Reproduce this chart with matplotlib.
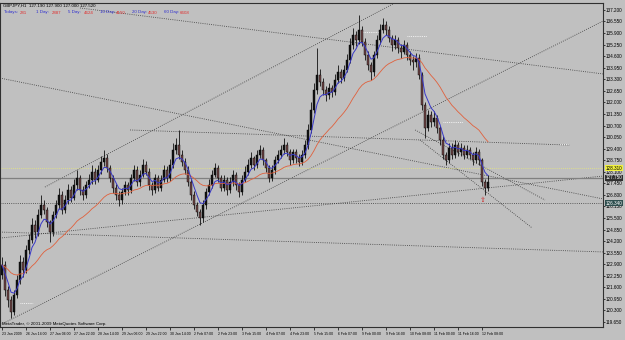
import numpy as np
import pandas as pd
import matplotlib
matplotlib.use("Agg")
import matplotlib.pyplot as plt

plt.rcParams["font.family"] = ["Liberation Sans", "DejaVu Sans"]

# ---------------- data (2-hour bars, GBPJPY) ----------------
first_open = 122.30
closes = [
    122.85, 121.45, 120.89, 120.21, 121.17, 122.01, 123.02, 122.57, 123.70, 124.26,
    125.10, 124.71, 125.67, 126.23, 125.95, 125.27, 124.71, 125.67, 126.23, 126.79,
    125.95, 126.51, 127.07, 126.62, 127.35, 127.75, 127.07, 126.79, 127.35, 127.64,
    128.09, 127.64, 128.20, 128.65, 128.87, 128.31, 127.75, 127.19, 126.79, 126.51,
    126.96, 127.35, 127.07, 127.75, 128.20, 127.52, 127.92, 128.48, 128.09, 127.35,
    127.07, 127.75, 127.19, 127.64, 128.20, 127.75, 128.48, 129.32, 129.60, 129.04,
    128.65, 128.20, 127.52, 126.79, 126.23, 125.84, 125.50, 126.23, 126.96, 127.35,
    127.92, 128.31, 127.75, 127.19, 127.64, 127.07, 127.52, 127.92, 127.35, 126.96,
    127.64, 128.09, 128.48, 128.87, 128.48, 129.04, 129.32, 128.76, 128.31, 127.75,
    128.20, 128.76, 129.04, 129.32, 129.60, 129.21, 128.76, 129.21, 128.87, 128.65,
    129.04, 129.60, 130.45, 131.57, 132.70, 133.54, 133.15, 132.70, 132.42, 132.81,
    132.59, 133.26, 133.71, 133.37, 133.82, 134.39, 135.23, 135.79, 135.51, 136.07,
    135.40, 134.67, 134.10, 133.71, 134.67, 135.51, 136.07, 136.35, 136.07, 135.62,
    135.23, 135.51, 135.06, 134.84, 135.23, 134.67, 134.39, 134.27, 134.50, 133.54,
    131.85, 130.56, 131.29, 130.90, 131.12, 130.56, 129.89, 129.04, 128.76, 129.44,
    129.04, 129.60, 129.21, 129.44, 129.04, 129.32, 129.04, 128.76, 129.21, 128.76,
    127.52, 127.19, 127.52,
]
highs = [
    123.30, 123.10, 121.70, 121.10, 121.45, 122.30, 123.40, 123.30, 124.00, 124.60,
    125.50, 125.40, 126.00, 126.80, 126.50, 126.10, 125.40, 125.90, 126.50, 127.20,
    127.00, 126.80, 127.40, 127.30, 127.70, 128.20, 127.90, 127.30, 127.60, 128.00,
    128.50, 128.30, 128.50, 129.00, 129.35, 129.10, 128.50, 127.90, 127.40, 127.00,
    127.20, 127.60, 127.50, 128.00, 128.50, 128.40, 128.20, 128.80, 128.70, 128.30,
    127.50, 128.00, 127.90, 127.90, 128.50, 128.40, 128.80, 129.70, 130.00, 130.45,
    129.30, 128.90, 128.40, 127.70, 127.00, 126.40, 126.00, 126.50, 127.20, 127.70,
    128.20, 128.60, 128.50, 127.90, 127.90, 127.80, 127.80, 128.20, 128.10, 127.50,
    127.90, 128.40, 128.80, 129.20, 129.00, 129.30, 129.60, 129.50, 128.90, 128.50,
    128.50, 129.00, 129.30, 129.60, 130.00, 129.80, 129.40, 129.40, 129.40, 129.10,
    129.30, 129.90, 130.80, 132.00, 133.10, 135.06, 133.90, 133.40, 132.90, 133.10,
    133.00, 133.60, 134.10, 133.90, 134.10, 134.70, 135.60, 136.20, 136.00, 136.92,
    136.30, 135.60, 134.90, 134.30, 134.90, 135.80, 136.40, 136.75, 136.60, 136.30,
    135.80, 135.80, 135.70, 135.30, 135.50, 135.40, 134.90, 134.60, 134.80, 134.70,
    133.70, 132.00, 131.60, 131.50, 131.50, 131.30, 130.70, 130.10, 129.20, 129.70,
    129.70, 129.90, 129.80, 129.70, 129.60, 129.60, 129.50, 129.20, 129.50, 129.40,
    128.90, 127.70, 127.90,
]
lows = [
    122.05, 121.10, 120.50, 119.85, 120.05, 121.00, 121.80, 122.20, 122.40, 123.50,
    124.10, 124.40, 124.50, 125.50, 125.70, 125.00, 124.15, 124.50, 125.50, 126.00,
    125.70, 125.80, 126.30, 126.40, 126.50, 127.10, 126.80, 126.50, 126.60, 127.20,
    127.40, 127.40, 127.50, 128.00, 128.40, 128.10, 127.50, 126.90, 126.50, 126.20,
    126.30, 126.80, 126.80, 126.90, 127.60, 127.30, 127.30, 127.80, 127.90, 127.10,
    126.80, 126.90, 127.00, 127.00, 127.50, 127.50, 127.60, 128.30, 129.10, 128.80,
    128.40, 128.00, 127.30, 126.50, 126.00, 125.60, 125.10, 125.30, 126.00, 126.80,
    127.20, 127.80, 127.50, 127.00, 127.00, 126.80, 126.90, 127.30, 127.10, 126.70,
    126.80, 127.50, 127.90, 128.30, 128.20, 128.30, 128.90, 128.50, 128.10, 127.50,
    127.60, 128.00, 128.60, 128.90, 129.10, 129.00, 128.50, 128.60, 128.60, 128.40,
    128.50, 128.90, 129.40, 130.30, 131.40, 132.50, 132.90, 132.40, 132.10, 132.20,
    132.30, 132.40, 133.10, 133.10, 133.20, 133.70, 134.20, 135.00, 135.20, 135.30,
    135.20, 134.40, 133.80, 133.26, 133.50, 134.50, 135.30, 135.90, 135.80, 135.40,
    134.90, 135.00, 134.80, 134.50, 134.70, 134.40, 134.10, 133.83, 134.00, 133.30,
    131.60, 130.00, 130.40, 130.60, 130.70, 130.30, 129.60, 128.80, 128.48, 128.60,
    128.80, 128.90, 129.00, 129.00, 128.80, 128.90, 128.80, 128.50, 128.60, 128.50,
    127.30, 126.80, 127.00,
]
time_labels = [
    "23 Jan 2009", "26 Jan 14:00", "27 Jan 06:00", "27 Jan 22:00", "28 Jan 14:00",
    "29 Jan 06:00", "29 Jan 22:00", "30 Jan 14:00", "2 Feb 07:00", "2 Feb 23:00",
    "3 Feb 15:00", "4 Feb 07:00", "4 Feb 23:00", "5 Feb 15:00", "6 Feb 07:00",
    "9 Feb 00:00", "9 Feb 16:00", "10 Feb 08:00", "11 Feb 00:00", "11 Feb 16:00",
    "12 Feb 08:00",
]
time_label_bars = [0, 8, 16, 24, 32, 40, 48, 56, 64, 72, 80, 88, 96, 104, 112,
                   120, 128, 136, 144, 152, 160]
price_ticks = [119.65, 120.30, 120.95, 121.60, 122.25, 122.90, 123.55, 124.20,
               124.85, 125.50, 126.15, 126.80, 127.45, 128.10, 128.75, 129.40,
               130.05, 130.70, 131.35, 132.00, 132.65, 133.30, 133.95, 134.60,
               135.25, 135.90, 136.55, 137.20]

# trend lines drawn on the chart: ((bar0, price0), (bar1, price1))
trend_lines = [
    ((-0.7, 119.48), (200.4, 136.58)),
    ((14.3, 127.24), (136.0, 138.04)),
    ((26.0, 137.31), (200.4, 133.60)),
    ((42.7, 130.45), (189.3, 129.60)),
    ((-0.7, 133.37), (200.4, 126.57)),
    ((137.7, 130.45), (181.0, 126.51)),
    ((139.3, 129.89), (176.7, 124.94)),
    ((-0.7, 124.37), (200.4, 127.86)),
    ((-0.7, 126.34), (200.4, 126.34)),
    ((-0.7, 124.71), (200.4, 123.59)),
]
white_marks = [((120.3, 126.0), 135.96), ((135.0, 141.7), 135.73),
               ((147.0, 153.7), 130.90), ((6.0, 10.3), 120.72),
               ((186.0, 188.7), 129.66)]
yellow_level = 128.31
bid_level = 127.75
line_tag_level = 126.34
arrow_bar, arrow_price = 160.3, 126.51

header_items = [("Todays:", "281"), ("1 Day:", "2887"), ("5 Day:", "4624"),
                ("10 Day:", "4150"), ("20 Day:", "4530"), ("60 Day:", "6608")]

# ---------------- drawing ----------------
BG = "#c0c0c0"
fig = plt.figure(figsize=(6.25, 3.4), dpi=100, facecolor=BG)
ax = fig.add_axes([0.0, 13 / 340, 603 / 625, 324 / 340], facecolor=BG)

n = len(closes)
idx = np.arange(n)
c = np.array(closes)
o = np.array([first_open] + closes[:-1])
h = np.array(highs)
l = np.array(lows)

ax.set_xlim(-0.67, 200.33)
ax.set_ylim(119.37, 137.59)

# trend lines
for (x0, y0), (x1, y1) in trend_lines:
    ax.plot([x0, x1], [y0, y1], color="#3a3a3a", lw=0.6,
            linestyle=(0, (1, 1.6)), zorder=1)
for (x0, x1), y in white_marks:
    ax.plot([x0, x1], [y, y], color="white", lw=0.6,
            linestyle=(0, (1, 1.2)), zorder=1)
ax.axhline(yellow_level, color="#e8e878", lw=0.6, linestyle=(0, (1, 1.5)), zorder=1)
ax.axhline(bid_level, color="#808080", lw=0.9, zorder=1)

# candles
ax.vlines(idx, l, h, color="black", lw=0.55, zorder=3)
bull = c >= o
body_lo = np.minimum(o, c)
body_h = np.maximum(np.abs(c - o), 0.04)
ax.bar(idx[bull], body_h[bull], bottom=body_lo[bull], width=0.75,
       color="#141414", edgecolor="black", lw=0.3, zorder=4)
ax.bar(idx[~bull], body_h[~bull], bottom=body_lo[~bull], width=0.75,
       color="#6e4646", edgecolor="black", lw=0.3, zorder=4)

# moving averages
s = pd.Series(c)
fast = s.ewm(span=5, adjust=False).mean()
slow = s.ewm(span=25, adjust=False).mean()
ax.plot(idx, slow, color="#e0603c", lw=0.6, zorder=5)
ax.plot(idx, fast, color="#3838c8", lw=0.7, zorder=5)

# signal arrow
ax.text(arrow_bar, arrow_price, "\u21e7", color="#d02020", fontsize=5,
        ha="center", va="center", zorder=6, family="DejaVu Sans")

# axes styling
for sp in ax.spines.values():
    sp.set_color("#303030")
    sp.set_linewidth(0.8)
ax.yaxis.tick_right()
ax.set_yticks(price_ticks)
ax.set_yticklabels([f"{v:.3f}" for v in price_ticks])
ax.tick_params(axis="y", labelsize=3.3, length=1.5, width=0.5, pad=0.6,
               colors="black")
ax.set_xticks(time_label_bars)
ax.set_xticklabels(time_labels)
ax.tick_params(axis="x", labelsize=2.55, length=2.5, width=0.5, pad=0.8,
               colors="black")
for lab in ax.get_xticklabels():
    lab.set_ha("left")

# price tags on the right scale
for lvl, fc, tc in [(yellow_level, "#f0f040", "black"),
                    (bid_level, "#303030", "white"),
                    (line_tag_level, "#2f4f4f", "white")]:
    ax.text(1.0045, lvl, f"{lvl:.3f}", transform=ax.get_yaxis_transform(),
            fontsize=3.3, color=tc, ha="left", va="center",
            bbox=dict(boxstyle="square,pad=0.12", fc=fc, ec="none"), zorder=10,
            clip_on=False)

# header texts
fig.text(3 / 625, 1 - 5.5 / 340, "GBPJPY,H1  127.190 127.900 127.000 127.520",
         fontsize=3.2, color="black", va="center", ha="left")
xpos = 4
for lab, val in header_items:
    fig.text(xpos / 625, 1 - 12.5 / 340, lab, fontsize=3.2, color="#2d2dd0",
             va="center", ha="left")
    fig.text((xpos + 16) / 625, 1 - 12.5 / 340, val, fontsize=3.2,
             color="#e03030", va="center", ha="left")
    xpos += 32

fig.text(2 / 625, 16.5 / 340, "MetaTrader, \u00a9 2001-2009 MetaQuotes Software Corp.",
         fontsize=3.2, color="black", va="center", ha="left")

fig.savefig("out.png", dpi=100, facecolor=BG)
